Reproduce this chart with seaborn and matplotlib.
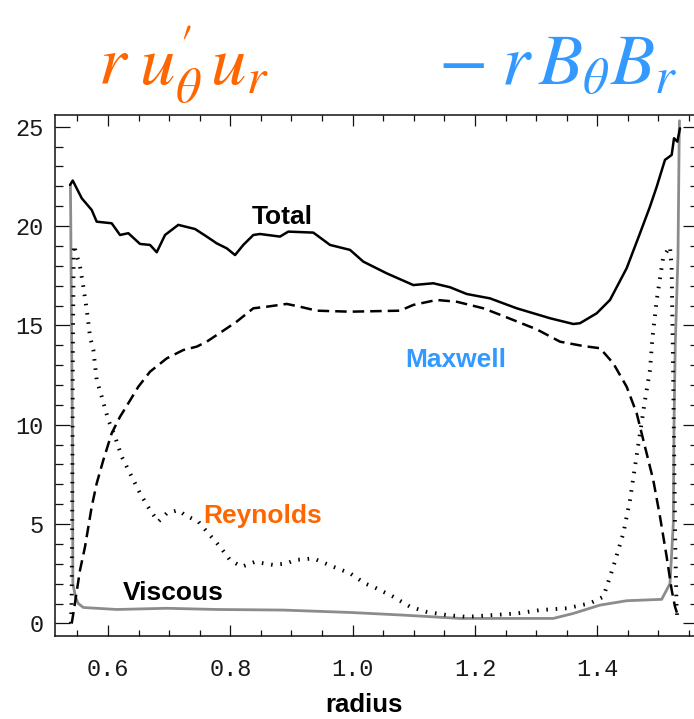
import matplotlib
matplotlib.use("Agg")
import matplotlib.pyplot as plt
import pandas as pd
import seaborn as sns
from matplotlib.ticker import MultipleLocator

# Angular momentum flux terms versus radius
total_r = [0.5379, 0.5423, 0.5570, 0.5733, 0.5815, 0.6060, 0.6196, 0.6332, 0.6523, 0.6687,
           0.6796, 0.6932, 0.7149, 0.7423, 0.7614, 0.7777, 0.7941, 0.8077, 0.8212, 0.8376,
           0.8485, 0.8812, 0.8948, 0.9357, 0.9630, 0.9957, 1.0174, 1.0557, 1.0992, 1.1319,
           1.1592, 1.1865, 1.2246, 1.2683, 1.3227, 1.3608, 1.3718, 1.3991, 1.4208, 1.4481,
           1.4699, 1.4862, 1.4972, 1.5107, 1.5217, 1.5255, 1.5309, 1.5353]
total_v = [22.07, 22.29, 21.40, 20.81, 20.22, 20.14, 19.55, 19.64, 19.10, 19.05,
           18.68, 19.55, 20.06, 19.85, 19.47, 19.13, 18.88, 18.54, 19.05, 19.55,
           19.60, 19.47, 19.72, 19.67, 19.05, 18.80, 18.21, 17.62, 17.03, 17.12,
           16.92, 16.58, 16.36, 15.86, 15.36, 15.07, 15.11, 15.61, 16.28, 17.88,
           19.64, 20.98, 21.98, 23.33, 23.58, 24.42, 24.25, 24.92]

maxwell_r = [0.5406, 0.5433, 0.5542, 0.5624, 0.5733, 0.5815, 0.5923, 0.6060, 0.6196, 0.6332,
             0.6495, 0.6687, 0.6960, 0.7231, 0.7450, 0.7614, 0.7941, 0.8104, 0.8376, 0.8595,
             0.8922, 0.9139, 0.9412, 0.9957, 1.0774, 1.0992, 1.1375, 1.1702, 1.2137, 1.2464,
             1.3010, 1.3391, 1.3772, 1.4045, 1.4262, 1.4481, 1.4645, 1.4753, 1.4916, 1.5026,
             1.5135, 1.5217, 1.5271, 1.5325]
maxwell_v = [0.00, 0.50, 2.68, 3.86, 5.87, 7.05, 8.22, 9.57, 10.40, 11.08,
             11.91, 12.67, 13.34, 13.76, 13.93, 14.18, 14.85, 15.19, 15.86, 15.94,
             16.08, 15.94, 15.74, 15.69, 15.74, 16.03, 16.28, 16.19, 15.86, 15.47,
             14.80, 14.18, 13.96, 13.85, 13.09, 11.91, 10.57, 9.23, 7.21, 5.37,
             3.35, 1.68, 0.84, 0.33]

reynolds_r = [0.5395, 0.5405, 0.5415, 0.5425, 0.5440, 0.5542, 0.5596, 0.5652, 0.5706, 0.5760,
              0.5815, 0.5897, 0.6005, 0.6114, 0.6224, 0.6388, 0.6523, 0.6687, 0.6822, 0.6960,
              0.7149, 0.7259, 0.7477, 0.7640, 0.7831, 0.7995, 0.8186, 0.8404, 0.8703, 0.8922,
              0.9058, 0.9357, 0.9684, 0.9957, 1.0202, 1.0393, 1.0665, 1.0938, 1.1211, 1.1538,
              1.1865, 1.2300, 1.2683, 1.3064, 1.3500, 1.3881, 1.4099, 1.4262, 1.4426, 1.4535,
              1.4617, 1.4699, 1.4781, 1.4862, 1.4900, 1.4972, 1.5080, 1.5189, 1.5215, 1.5235,
              1.5255, 1.5275, 1.5295, 1.5310]
reynolds_v = [0.00, 1.20, 6.00, 14.00, 19.05, 17.96, 16.95, 15.78, 14.43, 13.76,
              12.25, 11.41, 10.24, 9.40, 8.39, 7.38, 6.55, 5.70, 5.12, 5.54,
              5.70, 5.45, 5.12, 4.53, 3.86, 3.19, 2.85, 3.10, 2.94, 3.02,
              3.19, 3.27, 2.85, 2.52, 2.01, 1.76, 1.34, 0.84, 0.58, 0.42,
              0.33, 0.42, 0.50, 0.67, 0.76, 1.01, 1.34, 2.85, 4.53, 6.21,
              7.89, 9.57, 11.24, 12.75, 14.30, 16.28, 18.46, 18.96, 18.00, 14.00,
              9.00, 4.00, 1.00, 0.20]

viscous_r = [0.5385, 0.5390, 0.5400, 0.5420, 0.5425, 0.5470, 0.5514, 0.5596, 0.6142, 0.6960,
             0.7777, 0.8867, 0.9957, 1.0806, 1.1756, 1.3281, 1.3608, 1.4045, 1.4481, 1.5053,
             1.5189, 1.5243, 1.5255, 1.5275, 1.5320, 1.5341, 1.5345]
viscous_v = [22.07, 20.50, 16.00, 8.90, 2.00, 1.30, 1.00, 0.80, 0.70, 0.76,
             0.70, 0.67, 0.55, 0.42, 0.25, 0.25, 0.50, 0.92, 1.14, 1.21,
             2.00, 5.00, 10.00, 14.00, 18.50, 24.90, 25.30]

x_ticks = [0.6, 0.8, 1.0, 1.2, 1.4]
x_tick_labels = ["0.6", "0.8", "1.0", "1.2", "1.4"]
y_ticks = [0, 5, 10, 15, 20, 25]
y_tick_labels = ["0", "5", "10", "15", "20", "25"]

ORANGE = "#FF6600"
BLUE = "#3399FF"

sns.set_style("ticks")
plt.rcParams["mathtext.fontset"] = "stix"

W, H = 694, 719
fig = plt.figure(figsize=(W / 100, H / 100), dpi=100)
ax = fig.add_axes([54.7 / W, (H - 635.7) / H, (697.5 - 54.7) / W, (635.7 - 115) / H])

def series(r, v):
    return pd.DataFrame({"radius": r, "flux": v})

common = dict(x="radius", y="flux", ax=ax, sort=False, estimator=None, legend=False)
sns.lineplot(data=series(viscous_r, viscous_v), color="#8c8c8c", lw=2.0, **common)
sns.lineplot(data=series(reynolds_r, reynolds_v), color="black", lw=2.8,
             linestyle=(0, (0.4, 2.0)), dash_capstyle="butt", **common)
sns.lineplot(data=series(maxwell_r, maxwell_v), color="black", lw=1.8,
             linestyle=(0, (4.6, 2.4)), **common)
sns.lineplot(data=series(total_r, total_v), color="black", lw=1.8, **common)

ax.set_xlim(0.5128, 1.5639)
ax.set_ylim(-0.62, 25.59)
ax.set_xticks(x_ticks)
ax.set_xticklabels(x_tick_labels)
ax.set_yticks(y_ticks)
ax.set_yticklabels(y_tick_labels)
ax.xaxis.set_minor_locator(MultipleLocator(0.05))
ax.yaxis.set_minor_locator(MultipleLocator(1))
ax.set_xlabel("")
ax.set_ylabel("")

for s in ax.spines.values():
    s.set_visible(True)
    s.set_linewidth(1.1)
    s.set_color("#111111")

ax.tick_params(which="both", direction="in", top=True, right=True, color="#111111",
               width=0.9, labelcolor="#1a1a1a", labelsize=17)
ax.tick_params(axis="x", which="major", length=8.0, pad=16)
ax.tick_params(axis="x", which="minor", length=4.2)
ax.tick_params(axis="y", which="major", length=11.0, pad=8)
ax.tick_params(axis="y", which="minor", length=5.8)
for lab in ax.get_xticklabels() + ax.get_yticklabels():
    lab.set_fontfamily("Liberation Mono")

lab_kw = dict(family="Liberation Sans", weight="bold", fontsize=19, ha="center", va="baseline")
ax.text(0.8845, 20.10, "Total", color="black", **lab_kw)
ax.text(1.1687, 12.92, "Maxwell", color=BLUE, **lab_kw)
ax.text(0.8526, 5.03, "Reynolds", color=ORANGE, **lab_kw)
ax.text(0.7068, 1.17, "Viscous", color="black", **lab_kw)

fig.text(364 / W, 1 - 712 / H, "radius", family="Liberation Sans", weight="bold",
         fontsize=18.5, ha="center", va="baseline", color="black")

fig.text(183 / W, 1 - 84 / H, r"$r\;u^{\prime}_{\theta}\,u_{r}$", color=ORANGE,
         fontsize=51, ha="center", va="baseline")
fig.text(558 / W, 1 - 84 / H, r"$-\;r\,B_{\theta}B_{r}$", color=BLUE,
         fontsize=52, ha="center", va="baseline")

fig.savefig("out.png", dpi=100, facecolor="white")
